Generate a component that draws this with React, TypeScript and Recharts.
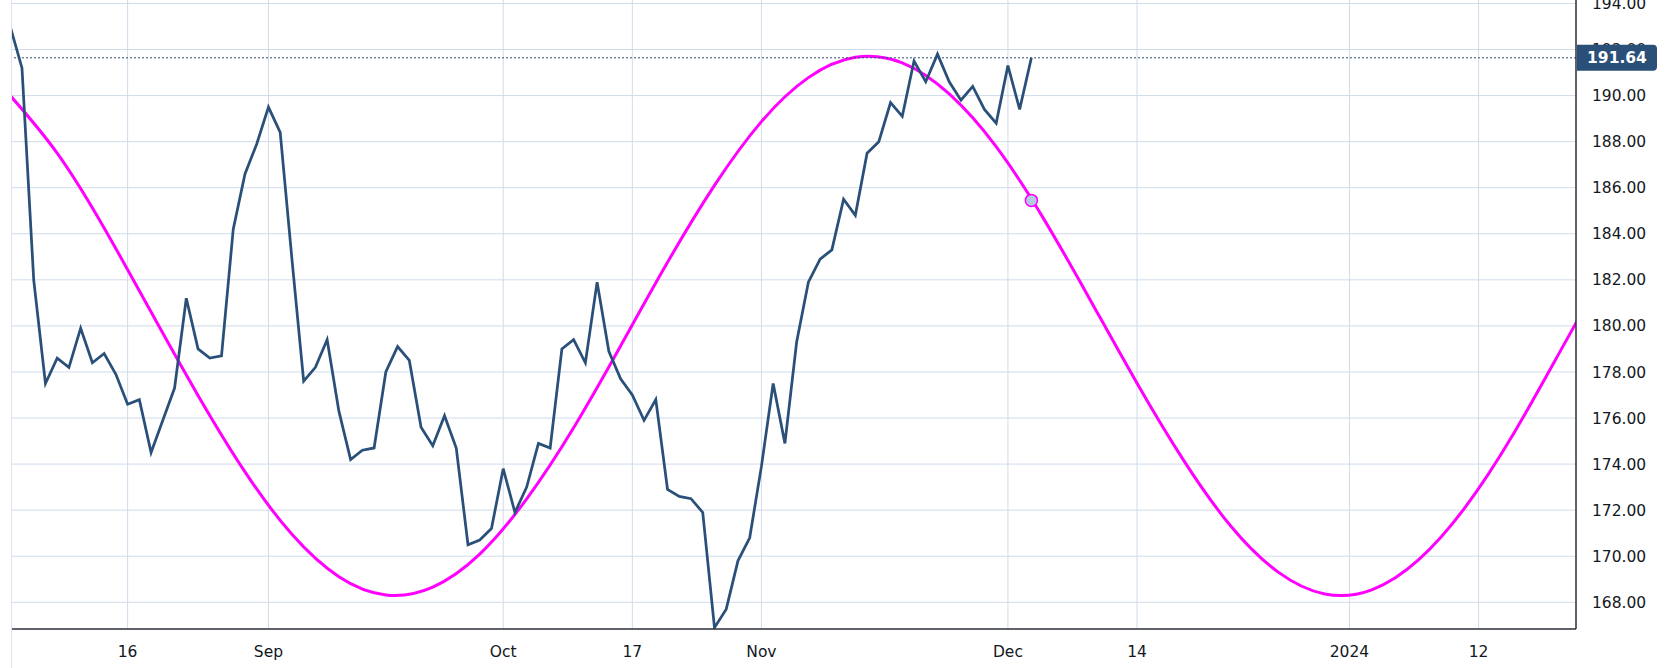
import { LineChart, Line, XAxis, YAxis, CartesianGrid, ReferenceLine, ReferenceDot } from 'recharts'

// trading-day index: 0 = Aug 16, first close is Aug 2
const FIRST_DAY = -10
const closes = [
  193.0, 191.2, 182.0, 177.5, 178.6, 178.2, 179.9, 178.4, 178.8, 177.9,
  176.6, 176.8, 174.5, 175.9, 177.3, 181.2, 179.0, 178.6, 178.7, 184.2,
  186.6, 187.9, 189.5, 188.4, 182.9, 177.6, 178.2, 179.4, 176.3, 174.2,
  174.6, 174.7, 178.0, 179.1, 178.5, 175.6, 174.8, 176.1, 174.7, 170.5,
  170.7, 171.2, 173.8, 171.9, 173.0, 174.9, 174.7, 179.0, 179.4, 178.4,
  181.9, 178.9, 177.7, 177.0, 175.9, 176.8, 172.9, 172.6, 172.5, 171.9,
  166.9, 167.7, 169.8, 170.8, 173.9, 177.5, 174.9, 179.3, 181.9, 182.9,
  183.3, 185.5, 184.8, 187.5, 188.0, 189.7, 189.1, 191.5, 190.6, 191.8,
  190.6, 189.8, 190.4, 189.4, 188.8, 191.3, 189.4, 191.64,
]

const cycleDays = [
  -10, -6, -2, 2, 6, 10, 14, 18, 22, 26, 30, 34, 38, 42, 46, 50, 54, 58,
  62, 66, 70, 74, 78, 82, 86, 90, 94, 98, 102, 106, 110, 114, 118, 122, 126,
]
const cycleValues = [
  190.0, 187.5, 184.25, 180.6, 176.98, 173.66, 170.95, 169.11, 168.32, 168.66,
  170.09, 172.49, 175.58, 179.13, 182.76, 186.1, 188.87, 190.78, 191.66, 191.42,
  190.07, 187.78, 184.69, 181.14, 177.51, 174.14, 171.3, 169.32, 168.36, 168.54,
  169.85, 172.15, 175.25, 178.85, 182.5,
]

const tickDays = [0, 12, 32, 43, 54, 75, 86, 104.1, 115.1]
const tickLabels = ['16', 'Sep', 'Oct', '17', 'Nov', 'Dec', '14', '2024', '12']
const priceTicks = [168, 170, 172, 174, 176, 178, 180, 182, 184, 186, 188, 190, 192, 194]

const lastClose = 191.64
const cycleNowDay = 77
const cycleNowValue = 185.45

const priceData = closes.map((v, k) => ({ day: FIRST_DAY + k, close: v }))
const cycleData = cycleDays.map((d, k) => ({ day: d, cycle: cycleValues[k] }))

const FONT = '"DejaVu Sans", Verdana, sans-serif'
const TAG_BG = '#2a5079'

// right-axis tick; the last-close tick is drawn as the price tag, last so it sits on top
function PriceAxisTick(props: any) {
  const { x, y, payload } = props
  if (payload.value === lastClose) {
    const x0 = x - 15
    const w = 80
    const h = 26
    const r = 4
    const d = `M${x0},${y - h / 2} H${x0 + w - r} Q${x0 + w},${y - h / 2} ${x0 + w},${y - h / 2 + r} V${y + h / 2 - r} Q${x0 + w},${y + h / 2} ${x0 + w - r},${y + h / 2} H${x0} Z`
    return (
      <g>
        <path d={d} fill={TAG_BG} />
        <text x={x0 + w / 2} y={y} dy="0.36em" textAnchor="middle" fill="#fff" fontFamily={FONT} fontSize={15.5} fontWeight="bold">
          {lastClose.toFixed(2)}
        </text>
      </g>
    )
  }
  return (
    <text x={x} y={y} dy="0.36em" textAnchor="start" fill="#131722" fontFamily={FONT} fontSize={15.5}>
      {payload.value.toFixed(2)}
    </text>
  )
}

export default function App() {
  return (
    <div style={{ position: 'absolute', left: 0, top: 0, width: 1667, height: 668, background: '#fff' }}>
      <div style={{ position: 'absolute', left: 11, top: 0, width: 1, height: 668, background: '#e0e3eb' }} />
      <LineChart width={1667} height={668} margin={{ top: 0, right: 0, bottom: 0, left: 12 }}>
        <CartesianGrid stroke="#d0dbea" strokeWidth={1} horizontalValues={priceTicks} verticalValues={tickDays} />
        <XAxis
          dataKey="day"
          type="number"
          domain={[-9.85, 123.4]}
          allowDataOverflow
          ticks={tickDays}
          tickFormatter={(v: number) => tickLabels[tickDays.indexOf(v)] ?? ''}
          interval={0}
          height={39}
          tickLine={false}
          tickSize={6}
          tickMargin={11}
          axisLine={{ stroke: '#2a2e39', strokeWidth: 1.5 }}
          tick={{ fill: '#131722', fontSize: 15.5, fontFamily: FONT }}
        />
        <YAxis
          orientation="right"
          type="number"
          domain={[166.84, 194.15]}
          allowDataOverflow
          ticks={[...priceTicks, lastClose]}
          interval={0}
          width={91}
          tickLine={false}
          tickSize={6}
          tickMargin={10}
          axisLine={{ stroke: '#2a2e39', strokeWidth: 1.5 }}
          tick={<PriceAxisTick />}
        />
        <Line
          data={cycleData}
          dataKey="cycle"
          type="natural"
          stroke="#ff00ff"
          strokeWidth={3}
          dot={false}
          activeDot={false}
          isAnimationActive={false}
        />
        <Line
          data={priceData}
          dataKey="close"
          type="linear"
          stroke="#2a5079"
          strokeWidth={2.75}
          dot={false}
          activeDot={false}
          isAnimationActive={false}
        />
        <ReferenceDot x={cycleNowDay} y={cycleNowValue} r={6} fill="#b3cce4" stroke="#ff00ff" strokeWidth={1.5} />
        <ReferenceLine y={lastClose} stroke={TAG_BG} strokeDasharray="2 2" strokeWidth={1} />
      </LineChart>
    </div>
  )
}
